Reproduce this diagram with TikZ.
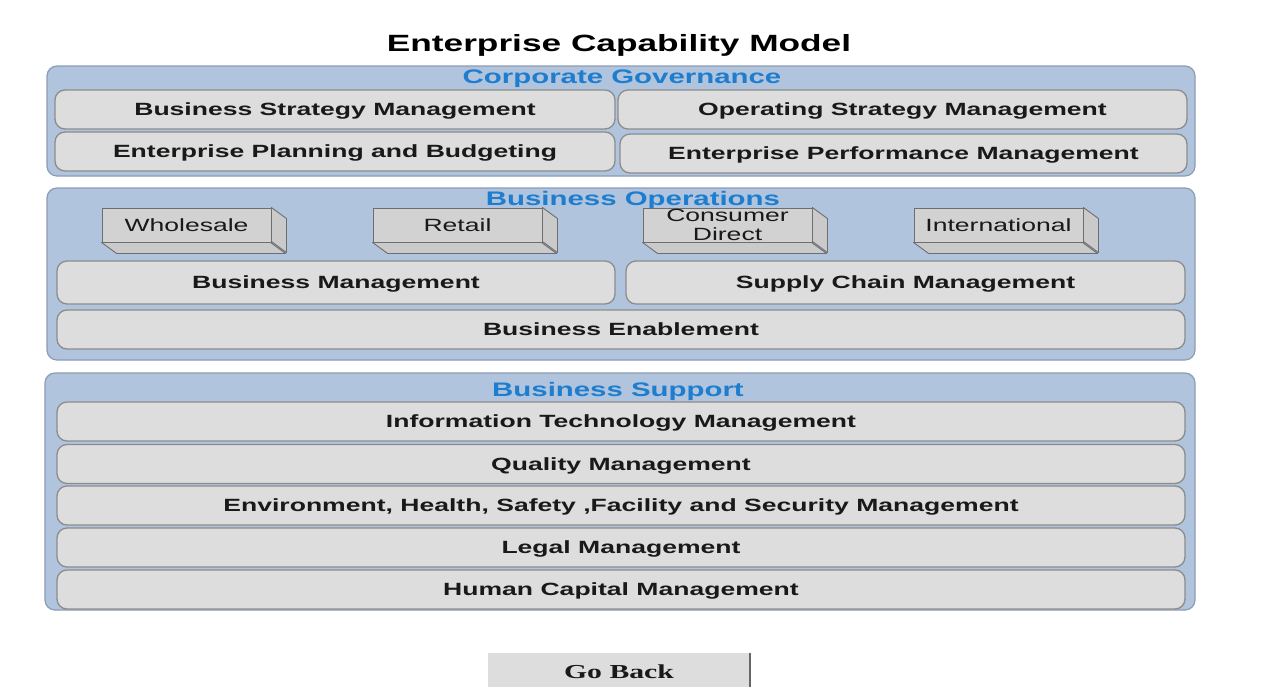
\documentclass[tikz,border=0pt]{standalone}
\usepackage{fontspec}
\setmainfont{Liberation Sans}
\newfontfamily\btnserif{Liberation Serif}
\newcommand\stretchtxt[1]{\scalebox{1.5}[1]{#1}}
\definecolor{panelfill}{RGB}{176,196,222}
\definecolor{panelline}{RGB}{140,156,178}
\definecolor{boxfill}{RGB}{221,221,221}
\definecolor{boxline}{RGB}{140,140,140}
\definecolor{cubefill}{RGB}{210,210,210}
\definecolor{cubeside}{RGB}{202,202,202}
\definecolor{cubeline}{RGB}{110,110,110}
\definecolor{grptitle}{RGB}{30,125,205}
\definecolor{labeltext}{RGB}{25,25,25}
\tikzset{
  panel/.style={draw=panelline, line width=1.2pt, fill=panelfill, rounded corners=10pt, inner sep=0pt},
  capbox/.style={draw=boxline, line width=1.3pt, fill=boxfill, rounded corners=10pt, inner sep=0pt,
    text=labeltext, font=\fontsize{17.7}{21}\selectfont\bfseries, text height=12.7pt, text depth=0pt},
  grplabel/.style={text=grptitle, inner sep=0pt, font=\fontsize{19.6}{23}\selectfont\bfseries,
    text height=14pt, text depth=0pt},
  cube/.style={draw=cubeline, line width=0.9pt, fill=cubefill, inner sep=0pt, minimum width=169pt, minimum height=34pt,
    text=labeltext, font=\fontsize{17.7}{22}\selectfont, align=center},
  cubeface/.style={draw=cubeline, line width=0.9pt, fill=cubeside, line join=round},
}
\newcommand\cubesides[1]{%
  \draw[cubeface] (#1.north east) -- ++(15,11) -- ++(0,34) -- ++(-15,-11) -- cycle;
  \draw[cubeface] (#1.south west) -- ++(15,11) -- ++(169,0) -- ++(-15,-11) -- cycle;
}
\begin{document}
\begin{tikzpicture}[x=1pt,y=-1pt]
\useasboundingbox[fill=white] (0,0) rectangle (1267,686);

% title
\node[inner sep=0pt, text=black, font=\fontsize{23.5}{28}\selectfont\bfseries, text height=16.8pt, text depth=0pt] (title) at (619,43) {\stretchtxt{Enterprise Capability Model}};

% Corporate Governance
\node[panel, minimum width=1148pt, minimum height=110pt] (cg) at (621,121) {};
\node[grplabel] (cgt) at (622,76.5) {\stretchtxt{Corporate Governance}};
\node[capbox, minimum width=560pt, minimum height=39pt] (bsm) at (335,109.5) {\stretchtxt{Business Strategy Management}};
\node[capbox, minimum width=569pt, minimum height=39pt] (osm) at (902.5,109.5) {\stretchtxt{Operating Strategy Management}};
\node[capbox, minimum width=560pt, minimum height=39pt] (epb) at (335,151.5) {\stretchtxt{Enterprise Planning and Budgeting}};
\node[capbox, minimum width=567pt, minimum height=39pt] (epm) at (903.5,153.5) {\stretchtxt{Enterprise Performance Management}};

% Business Operations
\node[panel, minimum width=1148pt, minimum height=172pt] (bo) at (621,274) {};
\node[grplabel] (bot) at (633,198.5) {\stretchtxt{Business Operations}};
\node[cube] (whs) at (186.5,225) {\stretchtxt{Wholesale}};
\node[cube] (ret) at (457.5,225) {\stretchtxt{Retail}};
\node[cube] (cdr) at (727.5,225) {\stretchtxt{Consumer}\\[-3pt]\stretchtxt{Direct}};
\node[cube] (int) at (998.5,225) {\stretchtxt{International}};
\cubesides{whs}
\cubesides{ret}
\cubesides{cdr}
\cubesides{int}
\node[capbox, minimum width=558pt, minimum height=43pt] (bm) at (336,282.5) {\stretchtxt{Business Management}};
\node[capbox, minimum width=559pt, minimum height=43pt] (scm) at (905.5,282.5) {\stretchtxt{Supply Chain Management}};
\node[capbox, minimum width=1128pt, minimum height=39pt] (be) at (621,329.5) {\stretchtxt{Business Enablement}};

% Business Support
\node[panel, minimum width=1150pt, minimum height=237pt] (bs) at (620,491.5) {};
\node[grplabel] (bst) at (618,389.5) {\stretchtxt{Business Support}};
\node[capbox, minimum width=1128pt, minimum height=39pt] (itm) at (621,421.5) {\stretchtxt{Information Technology Management}};
\node[capbox, minimum width=1128pt, minimum height=39pt] (qm) at (621,464) {\stretchtxt{Quality Management}};
\node[capbox, minimum width=1128pt, minimum height=39pt] (ehs) at (621,505.5) {\stretchtxt{Environment, Health, Safety ,Facility and Security Management}};
\node[capbox, minimum width=1128pt, minimum height=39pt] (lm) at (621,547.5) {\stretchtxt{Legal Management}};
\node[capbox, minimum width=1128pt, minimum height=39pt] (hcm) at (621,589.5) {\stretchtxt{Human Capital Management}};

% Go Back button
\node[fill=boxfill, inner sep=0pt, minimum width=262pt, minimum height=40pt, anchor=north west] (goback) at (488,653) {};
\node[inner sep=0pt, font=\fontsize{19.8}{24}\selectfont\btnserif\bfseries, text=labeltext, text height=13.2pt, text depth=0pt] (gobackt) at (619,672) {\stretchtxt{Go Back}};
\draw[line width=2pt, draw=black!60] (goback.north east) -- (goback.south east);
\end{tikzpicture}
\end{document}
